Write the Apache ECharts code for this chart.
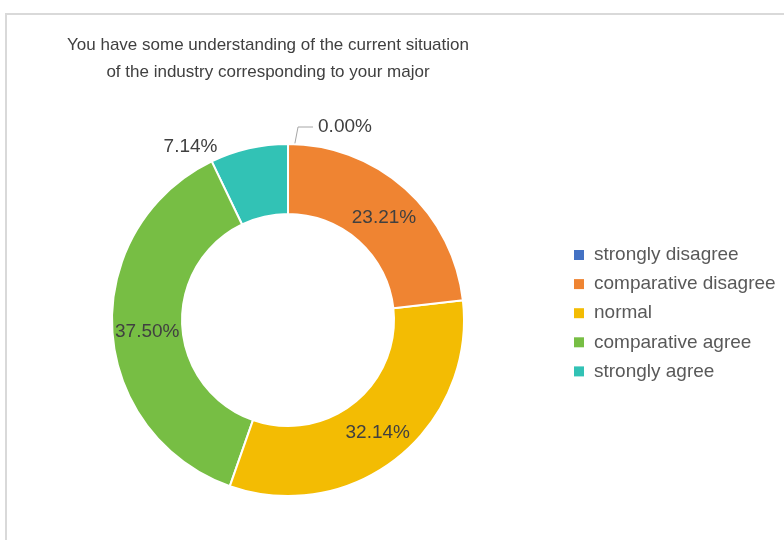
<!DOCTYPE html>
<html>
<head>
<meta charset="utf-8">
<script src="https://cdn.jsdelivr.net/npm/echarts@6/dist/echarts.min.js"></script>
<style>
  html, body { margin: 0; padding: 0; background: #ffffff; }
  #chart { width: 784px; height: 540px; }
</style>
</head>
<body>
<div id="chart"></div>
<script>
const titleText = 'You have some understanding of the current situation\nof the industry corresponding to your major';
const categories = ['strongly disagree', 'comparative disagree', 'normal', 'comparative agree', 'strongly agree'];
const percentages = [0.00, 23.21, 32.14, 37.50, 7.14];
const colors = ['#4472C4', '#EF8432', '#F3BC03', '#77BE44', '#32C2B5'];

const FONT = "'Liberation Sans', Arial, sans-serif";

const data = categories.map(function (name, i) {
  const item = { name: name, value: percentages[i], itemStyle: { color: colors[i] } };
  if (i === 0) {
    item.label = { position: 'outside' };
    item.labelLine = { show: true, showAbove: true, length: 17, length2: 25, lineStyle: { color: '#A6A6A6', width: 1 } };
  } else if (i === 1) {
    item.label = { offset: [0, 5] };
  } else if (i === 3) {
    item.label = { offset: [3, 4] };
  } else if (i === 4) {
    item.label = { position: 'outside' };
    item.labelLine = { show: false, length: 2, length2: 26 };
  }
  return item;
}).reverse();

const zeroName = categories[0];

const chart = echarts.init(document.getElementById('chart'), null, { renderer: 'canvas' });
chart.setOption({
  animation: false,
  backgroundColor: '#ffffff',
  graphic: [{
    type: 'rect',
    silent: true,
    shape: { x: 6, y: 14, width: 800, height: 560 },
    style: { fill: 'none', stroke: '#D9D9D9', lineWidth: 2 }
  }],
  title: {
    text: titleText,
    left: 268,
    top: 32,
    padding: 0,
    textAlign: 'center',
    textStyle: {
      fontFamily: FONT,
      fontSize: 17,
      fontWeight: 'normal',
      color: '#404040',
      lineHeight: 27
    }
  },
  legend: {
    orient: 'vertical',
    left: 574,
    top: 245,
    padding: 0,
    itemWidth: 10,
    itemHeight: 10,
    itemGap: 9.1,
    icon: 'rect',
    itemStyle: { borderWidth: 0 },
    textStyle: { fontFamily: FONT, fontSize: 19, color: '#595959', lineHeight: 20, padding: [0, 0, 0, 5] },
    data: categories
  },
  series: [{
    type: 'pie',
    center: [288, 320],
    radius: [106, 176],
    startAngle: 89.99,
    clockwise: false,
    avoidLabelOverlap: false,
    itemStyle: { borderColor: '#ffffff', borderWidth: 2 },
    label: {
      show: true,
      position: 'inside',
      formatter: function (p) { return p.value.toFixed(2) + '%'; },
      fontFamily: FONT,
      fontSize: 19,
      color: '#404040'
    },
    labelLine: { show: false, showAbove: true },
    labelLayout: function (params) {
      if (params.labelLinePoints && data[params.dataIndex] && data[params.dataIndex].name === zeroName) {
        const p = params.labelLinePoints;
        return {
          labelLinePoints: [
            [p[0][0], p[0][1] + 35],
            [p[1][0] + 10, p[1][1]],
            [p[2][0], p[2][1]]
          ]
        };
      }
      return {};
    },
    emphasis: { disabled: true },
    data: data
  }]
});
</script>
</body>
</html>
